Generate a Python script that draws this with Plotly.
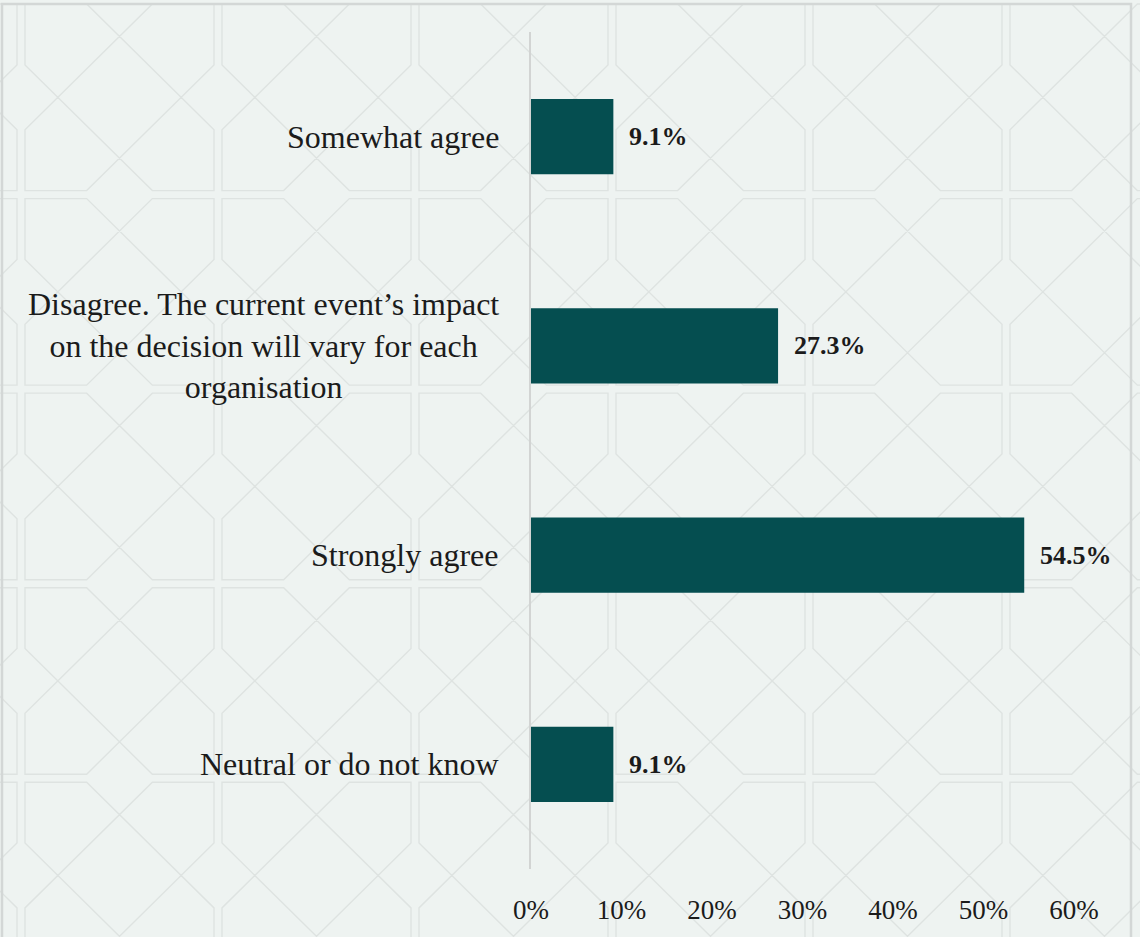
import plotly.graph_objects as go

# Survey responses, listed top to bottom
categories = [
    "Somewhat agree",
    "Disagree. The current event’s impact<br>on the decision will vary for each<br>organisation",
    "Strongly agree",
    "Neutral or do not know",
]
shares = [9.1, 27.3, 54.5, 9.1]
tick_values = [0, 10, 20, 30, 40, 50, 60]

BAR_COLOR = "#054E50"
BG_COLOR = "#EEF3F1"
PATTERN_COLOR = "#DEE3E1"
SERIF = "Liberation Serif, Times New Roman, serif"

W, H = 1140, 937
M_L, M_R, M_T, M_B = 531, 66, 32, 66
PLOT_W = W - M_L - M_R
PLOT_H = H - M_T - M_B


def px_to_paper(x, y):
    return (x - M_L) / PLOT_W, (H - M_B - y) / PLOT_H


# Decorative lattice: each tile carries two crossing elongated hexagons
def tile_paths(gx, gy, pw, ph, m=4.0):
    hexes = [
        [(m, ph / 3), (m, m), (pw / 3, m), (pw - m, 2 * ph / 3), (pw - m, ph - m), (2 * pw / 3, ph - m)],
        [(2 * pw / 3, m), (pw - m, m), (pw - m, ph / 3), (pw / 3, ph - m), (m, ph - m), (m, 2 * ph / 3)],
    ]
    out = []
    for hx in hexes:
        pts = [px_to_paper(gx + u, gy + v) for u, v in hx]
        seg = "M" + " L".join(f"{a:.5f},{b:.5f}" for a, b in pts) + " Z"
        out.append(seg)
    return out


PW, PH = 197.0, 195.0
segments = []
for i in range(-1, 7):
    for j in range(0, 5):
        segments += tile_paths(21 + i * PW, j * PH, PW, PH)

shapes = [
    dict(type="path", path=" ".join(segments), xref="paper", yref="paper",
         line=dict(color=PATTERN_COLOR, width=1.4), layer="below"),
]
# card frame
x0, y0 = px_to_paper(2, 4)
x1, y1 = px_to_paper(1131, 960)
shapes.append(dict(type="rect", xref="paper", yref="paper", x0=x0, y0=y0, x1=x1, y1=y1,
                   line=dict(color="#D3D7D6", width=2.5), layer="below"))

fig = go.Figure(
    go.Bar(
        x=shares,
        y=categories,
        orientation="h",
        marker=dict(color=BAR_COLOR, line=dict(width=0)),
        hoverinfo="skip",
    )
)

annotations = []
for cat, val in zip(categories, shares):
    # category label, centred lines, right-aligned block
    annotations.append(dict(
        x=0, xref="paper", y=cat, yref="y", xanchor="right", yanchor="middle",
        xshift=-30, align="center", showarrow=False, text=cat,
        font=dict(family=SERIF, size=32, color="#1B1B1B"),
    ))
    # value label beside each bar
    annotations.append(dict(
        x=val, xref="x", y=cat, yref="y", xanchor="left", yanchor="middle",
        xshift=14, showarrow=False, text=f"<b>{val}%</b>",
        font=dict(family=SERIF, size=26, color="#1B1B1B"),
    ))

fig.update_layout(
    width=W,
    height=H,
    margin=dict(l=M_L, r=M_R, t=M_T, b=M_B, pad=0),
    paper_bgcolor=BG_COLOR,
    plot_bgcolor="rgba(0,0,0,0)",
    bargap=0.64,
    showlegend=False,
    shapes=shapes,
    annotations=annotations,
    xaxis=dict(
        range=[0, 60],
        tickvals=tick_values,
        ticktext=[f"{v}%" for v in tick_values],
        showgrid=False,
        zeroline=False,
        showline=False,
        ticks="",
        ticklabelstandoff=22,
        tickfont=dict(family=SERIF, size=27, color="#1B1B1B"),
        fixedrange=True,
    ),
    yaxis=dict(
        autorange="reversed",
        showticklabels=False,
        showgrid=False,
        zeroline=False,
        showline=True,
        linecolor="#D2D4D3",
        linewidth=2,
        ticks="",
        fixedrange=True,
    ),
)

fig.write_html("out.html", config={"displayModeBar": False})
